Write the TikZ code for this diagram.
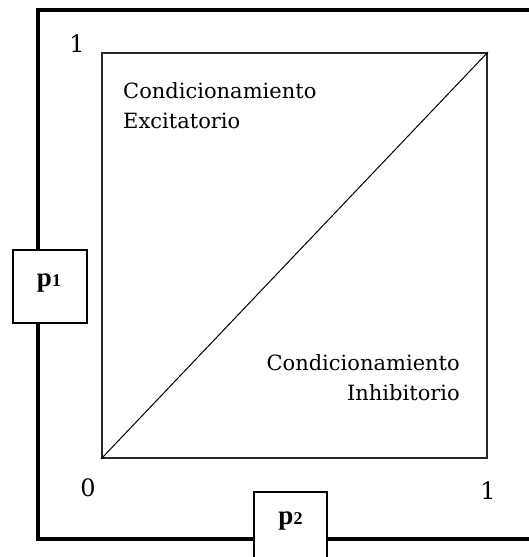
\documentclass[tikz,border=0pt]{standalone}
\usepackage{fontspec}
\setmainfont{Liberation Serif}
\newfontfamily\dvserif{DejaVu Serif}
\begin{document}
\begin{tikzpicture}[x=1pt,y=-1pt,
  frame/.style={line width=4pt},
  pbox/.style={draw,line width=2pt,fill=white,inner sep=0pt},
  plabel/.style={font=\fontsize{27}{27}\selectfont\bfseries,inner sep=0pt},
  axisnum/.style={font=\dvserif\fontsize{24}{24}\selectfont,inner sep=0pt},
  region/.style={font=\dvserif\fontsize{21}{30}\selectfont,inner sep=0pt,text width=210pt}]
\useasboundingbox (0,0) rectangle (529,557);
\clip (0,0) rectangle (529,557);
% inner square
\node[draw,line width=2pt,draw=black!85,minimum width=385pt,minimum height=405pt,inner sep=0pt] (sq) at (294.5,255.5) {};
\draw[line width=1pt] (sq.south west) -- (sq.north east);
% labels on axes
\node[axisnum] (one1) at (77,44) {1};
\node[axisnum] (zero) at (88,488) {0};
\node[axisnum] (one2) at (488,491) {1};
% region texts
\node[region,align=left,anchor=base west] (exc) at (123,98) {Condicionamiento\\Excitatorio};
\node[region,align=right,anchor=base east] (inh) at (460,370) {Condicionamiento\\Inhibitorio};
% boxes
\node[pbox,minimum width=74pt,minimum height=73pt] (p1) at (50,286.5) {};
\node[pbox,minimum width=73pt,minimum height=90pt,anchor=north] (p2box) at (290.5,491) {};
% outer frame
\coordinate (tl) at (38,10);
\coordinate (bl) at (38,539);
\coordinate (tr) at (531,10);
\coordinate (br) at (531,539);
\draw[frame] (tl |- p1.north) -- (tl) -- (tr);
\draw[frame] (bl |- p1.south) -- (bl) -- (bl -| p2box.west);
\draw[frame] (br -| p2box.east) -- (br);
\node[plabel] (p1lab) at (49,283) {p{\fontsize{18}{18}\selectfont 1}};
\node[plabel] (p2lab) at (290.5,521) {p{\fontsize{18}{18}\selectfont 2}};
\end{tikzpicture}
\end{document}
